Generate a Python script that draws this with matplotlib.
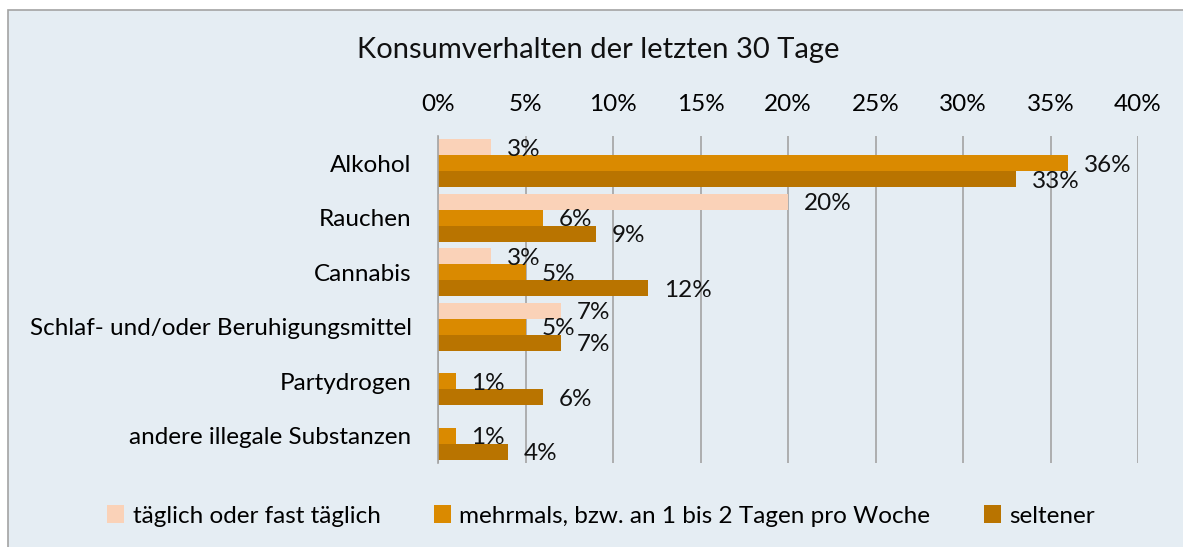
import numpy as np
import matplotlib.pyplot as plt
from matplotlib.patches import Rectangle, Patch

plt.rcParams["font.family"] = ["Lato", "DejaVu Sans"]

# ── Daten ─────────────────────────────────────────────────────────────────────
categories = [
    "Alkohol",
    "Rauchen",
    "Cannabis",
    "Schlaf- und/oder Beruhigungsmittel",
    "Partydrogen",
    "andere illegale Substanzen",
]
taeglich = [3, 20, 3, 7, 0, 0]
mehrmals = [36, 6, 5, 5, 1, 1]
seltener = [33, 9, 12, 7, 6, 4]

series_names = [
    "täglich oder fast täglich",
    "mehrmals, bzw. an 1 bis 2 Tagen pro Woche",
    "seltener",
]
colors = ["#FAD2B8", "#DA8A00", "#B97400"]
x_ticks = [0, 5, 10, 15, 20, 25, 30, 35, 40]

BG = "#E5EDF3"
GRID = "#A3A3A3"
FS = 17.5

W, H = 1183, 547
fig = plt.figure(figsize=(W / 100, H / 100), dpi=100)
fig.patch.set_facecolor("white")

# Rahmen des Diagrammbereichs
fig.patches.append(
    Rectangle((8 / W, -0.05), 1.1, 1 - 10 / H + 0.05, transform=fig.transFigure,
              facecolor=BG, edgecolor=GRID, linewidth=1.2, zorder=-10)
)

ax = fig.add_axes([438 / W, 1 - 463 / H, 700 / W, 327 / H])
ax.set_facecolor(BG)

y = np.arange(len(categories))
h = 0.293
for off, vals, col in zip([-h, 0, h], [taeglich, mehrmals, seltener], colors):
    bars = ax.barh(y + off, vals, height=h, color=col, zorder=2)
    labels = ax.bar_label(bars, labels=[f"{v}%" if v > 0 else "" for v in vals],
                          padding=11.5, fontsize=FS, color="#111111")
    # Excel setzt die Beschriftungen minimal tiefer
    for t in labels:
        t.set_va("center")
        x0, y0 = t.xyann
        t.xyann = (x0, y0 - 1.5)

ax.set_xlim(0, 40)
ax.set_ylim(len(categories) - 0.5, -0.5)
ax.set_xticks(x_ticks)
ax.set_xticklabels([f"{t}%" for t in x_ticks], fontsize=FS)
ax.xaxis.tick_top()
ax.tick_params(axis="x", length=0, pad=15)
ax.set_yticks(y)
ax.set_yticklabels(categories, fontsize=FS)
ax.tick_params(axis="y", length=0, pad=19)
ax.grid(axis="x", color=GRID, linewidth=1.2, zorder=1)
for s in ["top", "right", "bottom"]:
    ax.spines[s].set_visible(False)
ax.spines["left"].set_color(GRID)
ax.spines["left"].set_linewidth(1.2)

fig.text(598 / W, 1 - 50 / H, "Konsumverhalten der letzten 30 Tage",
         ha="center", va="center", fontsize=21, color="#111111")

handles = [Patch(facecolor=c) for c in colors]
fig.legend(handles, series_names, ncol=3, loc="center",
           bbox_to_anchor=(601 / W, 1 - 516 / H), frameon=False, fontsize=FS,
           handlelength=0.7, handleheight=0.7, handletextpad=0.35,
           columnspacing=2.2)

fig.savefig("out.png", dpi=100, facecolor=fig.get_facecolor())
